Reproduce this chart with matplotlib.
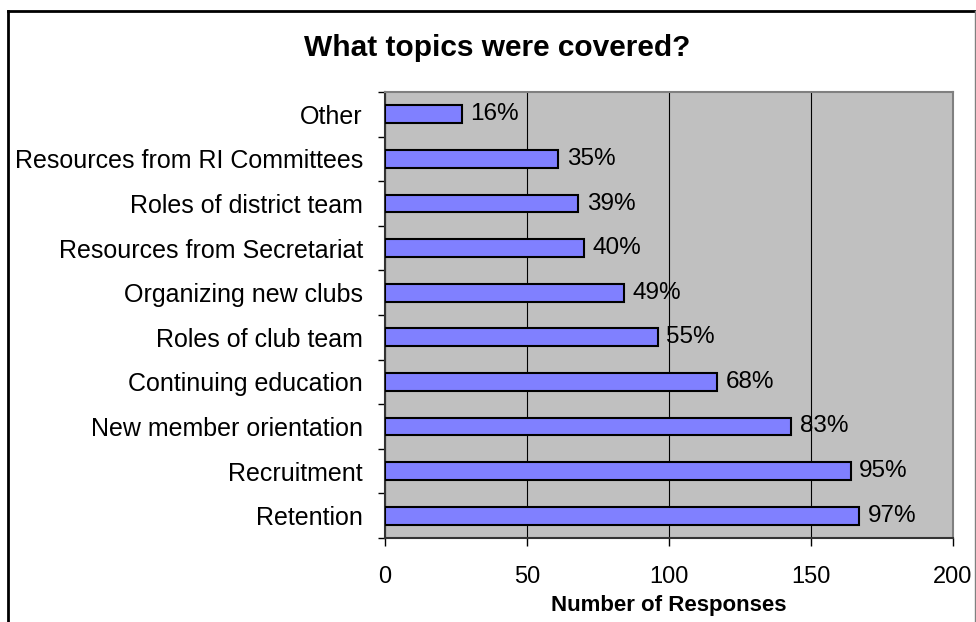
#!/usr/bin/env python

from matplotlib import pyplot as plt
from matplotlib.lines import Line2D
import numpy as np

plt.rcParams['font.family'] = ['Liberation Sans', 'DejaVu Sans']

topics = ['Retention', 'Recruitment', 'New member orientation',
          'Continuing education', 'Roles of club team', 'Organizing new clubs',
          'Resources from Secretariat', 'Roles of district team',
          'Resources from RI Committees', 'Other']
responses = [167, 164, 143, 117, 96, 84, 70, 68, 61, 27]
pct_labels = ['97%', '95%', '83%', '68%', '55%', '49%', '40%', '39%', '35%', '16%']

fig = plt.figure(figsize=(9.76, 6.22), dpi=100)
ax = fig.add_axes([385/976, 1-538/622, (953-385)/976, (538-92)/622])
ax.set_facecolor('#c0c0c0')

y = np.arange(len(topics))
ax.barh(y, responses, height=0.4, color='#8080ff', edgecolor='black',
        linewidth=1.5, zorder=3)
for yi, val, lab in zip(y, responses, pct_labels):
    ax.text(val + 3, yi, lab, va='center', ha='left', fontsize=17.5, zorder=4)

ax.set_xlim(0, 200)
ax.set_ylim(-0.5, len(topics) - 0.5)
ax.set_xticks([0, 50, 100, 150, 200])
ax.grid(axis='x', color='black', linewidth=0.8, zorder=1)
ax.set_axisbelow(True)

ax.set_yticks(y)
ax.set_yticklabels(topics, fontsize=18)
ax.set_yticks(np.arange(len(topics) + 1) - 0.5, minor=True)
ax.tick_params(axis='y', which='major', length=0, pad=16)
ax.tick_params(axis='y', which='minor', length=5, width=1, direction='out')
ax.tick_params(axis='x', length=6, width=1, direction='out', labelsize=17, pad=14)

for side in ['top', 'right']:
    ax.spines[side].set_color('#808080')
    ax.spines[side].set_linewidth(1.5)
for side in ['left', 'bottom']:
    ax.spines[side].set_color('#333333')
    ax.spines[side].set_linewidth(1.5)

ax.set_xlabel('Number of Responses', fontsize=16, fontweight='bold', labelpad=5)
fig.text(497/976, 1-48/622, 'What topics were covered?', fontsize=21.5,
         fontweight='bold', ha='center', va='center')

# outer chart frame
fig.add_artist(Line2D([8/976, 8/976], [0, 1-11/622], color='black', linewidth=2))
fig.add_artist(Line2D([8/976, 975/976], [1-11/622, 1-11/622], color='black', linewidth=2))
fig.add_artist(Line2D([975/976, 975/976], [0, 1-11/622], color='#808080', linewidth=1))

fig.savefig('out.png', dpi=100)
